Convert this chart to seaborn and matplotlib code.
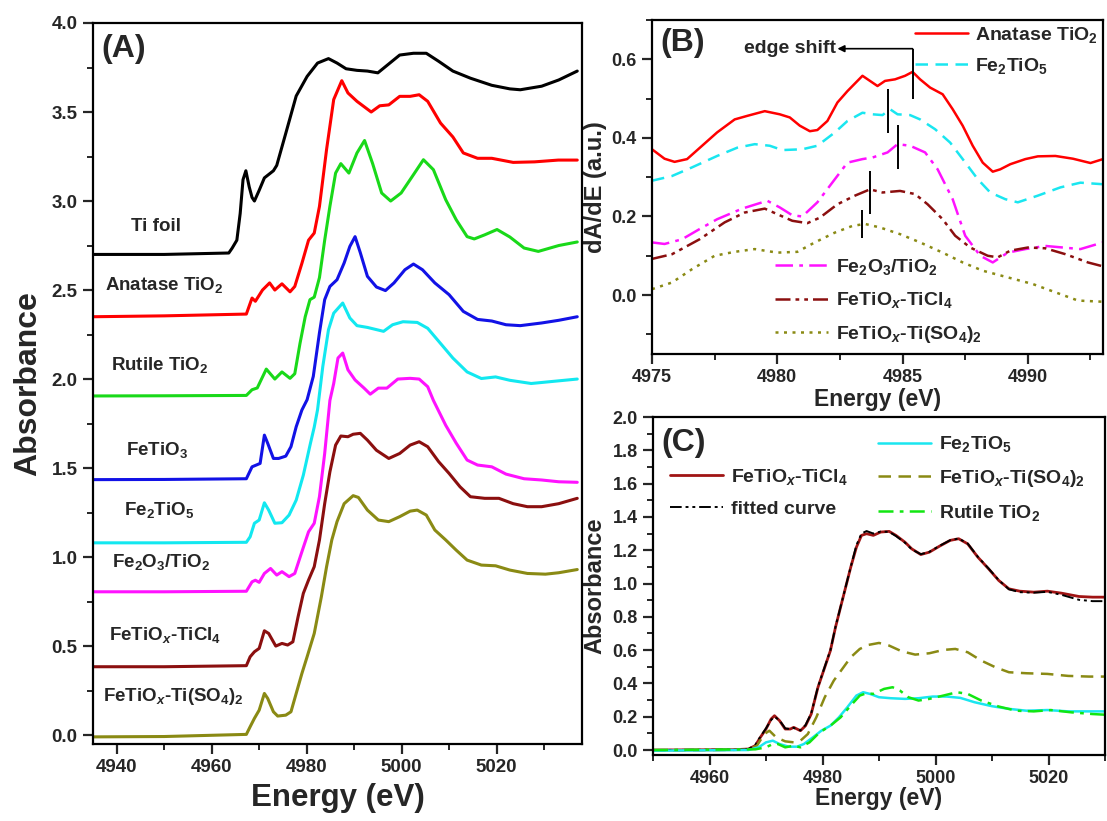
import matplotlib
matplotlib.use("Agg")
import matplotlib.pyplot as plt
from matplotlib.lines import Line2D
from matplotlib.ticker import MultipleLocator
import seaborn as sns

# ---------------- panel A: normalised XANES, stacked (energy eV, absorbance)
ti_foil = [(4935, 2.70), (4950, 2.70), (4963.6, 2.708), (4964.3, 2.735), (4965.3, 2.78),
           (4966.0, 2.93), (4966.6, 3.12), (4967.2, 3.17), (4967.9, 3.08), (4968.5, 3.02),
           (4969.0, 3.00), (4970.0, 3.06), (4971.1, 3.13), (4973.0, 3.17), (4973.7, 3.20),
           (4975.6, 3.38), (4977.8, 3.59), (4980.1, 3.70), (4982.3, 3.775), (4984.6, 3.80),
           (4986.4, 3.775), (4988.3, 3.743), (4990.6, 3.734), (4992.8, 3.73), (4995.0, 3.72),
           (4997.3, 3.77), (4999.6, 3.82), (5002.5, 3.83), (5005.2, 3.83), (5007.8, 3.785),
           (5010.8, 3.73), (5014.5, 3.69), (5019.0, 3.65), (5022.8, 3.63), (5025.0, 3.625),
           (5029.5, 3.645), (5033.1, 3.68), (5037, 3.73)]
anatase = [(4935, 2.35), (4950, 2.355), (4967.3, 2.365), (4968.5, 2.455), (4969.2, 2.437),
           (4970.7, 2.50), (4972.2, 2.54), (4973.3, 2.50), (4974.8, 2.535), (4976.5, 2.49),
           (4977.5, 2.52), (4979.0, 2.65), (4980.4, 2.78), (4981.6, 2.82), (4982.7, 2.97),
           (4984.2, 3.29), (4985.7, 3.57), (4987.4, 3.676), (4988.7, 3.607), (4990.6, 3.56),
           (4992.1, 3.53), (4993.6, 3.50), (4995.4, 3.535), (4997.3, 3.54), (4999.6, 3.588),
           (5001.8, 3.588), (5003.7, 3.597), (5005.5, 3.56), (5008.2, 3.438), (5010.8, 3.36),
           (5013.0, 3.27), (5016.0, 3.24), (5019.0, 3.24), (5023.5, 3.217), (5028.0, 3.22),
           (5033.0, 3.23), (5037, 3.23)]
rutile = [(4935, 1.905), (4950, 1.906), (4967.3, 1.908), (4968.5, 1.94), (4969.6, 1.95),
          (4971.5, 2.056), (4973.3, 2.00), (4974.8, 2.04), (4976.5, 2.004), (4977.5, 2.03),
          (4978.6, 2.20), (4979.7, 2.35), (4980.7, 2.446), (4981.6, 2.46), (4982.7, 2.57),
          (4983.8, 2.78), (4984.9, 2.97), (4986.1, 3.157), (4987.2, 3.21), (4988.9, 3.157),
          (4990.6, 3.27), (4992.2, 3.34), (4993.9, 3.21), (4995.8, 3.045), (4997.7, 3.00),
          (4999.9, 3.045), (5002.5, 3.148), (5004.6, 3.232), (5006.7, 3.176), (5009.3, 3.007),
          (5011.5, 2.895), (5013.8, 2.80), (5015.3, 2.787), (5017.5, 2.81), (5020.1, 2.84),
          (5022.8, 2.798), (5025.8, 2.736), (5028.8, 2.717), (5033.1, 2.75), (5037, 2.77)]
fetio3 = [(4935, 1.435), (4950, 1.436), (4967.3, 1.44), (4968.5, 1.507), (4969.4, 1.517),
          (4970.2, 1.526), (4971.1, 1.685), (4971.8, 1.639), (4973.0, 1.554), (4974.1, 1.554),
          (4975.6, 1.567), (4976.7, 1.62), (4977.8, 1.732), (4979.0, 1.826), (4980.1, 1.884),
          (4981.4, 2.015), (4982.7, 2.26), (4983.8, 2.446), (4984.9, 2.52), (4986.4, 2.558),
          (4987.9, 2.652), (4989.1, 2.745), (4990.2, 2.80), (4991.3, 2.71), (4992.8, 2.577),
          (4994.7, 2.517), (4996.6, 2.497), (4998.4, 2.54), (5000.7, 2.614), (5002.5, 2.646),
          (5004.4, 2.614), (5007.0, 2.54), (5010.0, 2.474), (5013.0, 2.38), (5016.0, 2.335),
          (5019.0, 2.326), (5022.0, 2.305), (5025.0, 2.30), (5029.5, 2.315), (5033.1, 2.33),
          (5037, 2.35)]
fe2tio5 = [(4935, 1.08), (4950, 1.08), (4967.3, 1.083), (4968.1, 1.114), (4969.0, 1.19),
           (4970.0, 1.208), (4971.1, 1.305), (4972.0, 1.264), (4973.3, 1.19), (4974.8, 1.193),
           (4976.3, 1.236), (4977.8, 1.32), (4979.3, 1.46), (4980.8, 1.639), (4981.6, 1.73),
           (4982.3, 1.828), (4983.4, 2.07), (4984.6, 2.277), (4985.7, 2.37), (4987.6, 2.427),
           (4989.1, 2.343), (4990.6, 2.30), (4992.8, 2.29), (4996.2, 2.268), (4998.1, 2.305),
           (5000.3, 2.322), (5003.3, 2.318), (5005.5, 2.285), (5008.2, 2.20), (5010.8, 2.118),
           (5013.8, 2.04), (5016.8, 2.003), (5019.8, 2.012), (5022.8, 1.993), (5027.3, 1.975),
           (5033.1, 1.99), (5037, 2.0)]
fe2o3_tio2 = [(4935, 0.805), (4950, 0.805), (4967.3, 0.808), (4968.5, 0.861), (4969.2, 0.87),
              (4970.0, 0.858), (4971.1, 0.908), (4972.4, 0.936), (4973.7, 0.899), (4974.8, 0.918),
              (4976.3, 0.89), (4977.5, 0.908), (4979.0, 1.03), (4980.4, 1.142), (4981.6, 1.19),
              (4982.7, 1.34), (4983.8, 1.582), (4984.9, 1.88), (4985.7, 1.975), (4986.6, 2.118),
              (4987.6, 2.146), (4988.7, 2.052), (4990.2, 1.995), (4992.1, 1.949), (4993.4, 1.915),
              (4995.1, 1.949), (4996.9, 1.949), (4999.2, 2.0), (5001.8, 2.004), (5003.7, 2.0),
              (5005.5, 1.957), (5006.7, 1.88), (5009.3, 1.74), (5011.5, 1.64), (5013.8, 1.545),
              (5016.0, 1.517), (5019.0, 1.507), (5022.0, 1.466), (5025.8, 1.44), (5029.5, 1.433),
              (5033.1, 1.423), (5037, 1.42)]
fetiox_ticl4 = [(4935, 0.384), (4950, 0.384), (4967.3, 0.39), (4968.1, 0.44), (4969.0, 0.468),
                (4970.0, 0.487), (4971.1, 0.586), (4972.0, 0.571), (4973.5, 0.50), (4974.8, 0.515),
                (4976.0, 0.506), (4977.1, 0.524), (4978.2, 0.665), (4979.3, 0.796), (4980.4, 0.871),
                (4981.6, 0.946), (4982.7, 1.096), (4983.8, 1.30), (4984.9, 1.479), (4986.1, 1.629),
                (4987.2, 1.68), (4988.7, 1.676), (4989.8, 1.69), (4991.3, 1.695), (4992.8, 1.657),
                (4994.7, 1.60), (4997.3, 1.554), (4999.6, 1.582), (5001.8, 1.629), (5003.7, 1.648),
                (5005.5, 1.62), (5007.8, 1.536), (5010.0, 1.47), (5012.3, 1.395), (5014.5, 1.339),
                (5017.5, 1.33), (5020.5, 1.33), (5023.5, 1.30), (5026.5, 1.283), (5029.5, 1.283),
                (5033.1, 1.30), (5037, 1.33)]
fetiox_tiso4 = [(4935, -0.01), (4950, -0.008), (4967.3, 0.004), (4968.1, 0.047), (4969.0, 0.094),
                (4970.0, 0.14), (4971.1, 0.234), (4971.8, 0.206), (4973.0, 0.131), (4973.9, 0.107),
                (4975.6, 0.112), (4976.7, 0.131), (4977.8, 0.234), (4979.0, 0.346), (4980.1, 0.44),
                (4981.6, 0.571), (4983.1, 0.777), (4984.2, 0.946), (4985.3, 1.096), (4986.4, 1.199),
                (4987.9, 1.30), (4989.8, 1.345), (4990.9, 1.335), (4992.8, 1.264), (4995.1, 1.208),
                (4997.3, 1.199), (4999.6, 1.227), (5001.8, 1.258), (5003.3, 1.264), (5005.2, 1.236),
                (5007.0, 1.152), (5009.3, 1.096), (5011.5, 1.039), (5013.8, 0.983), (5016.8, 0.955),
                (5019.8, 0.951), (5022.8, 0.927), (5026.5, 0.908), (5030.3, 0.904), (5033.1, 0.912),
                (5037, 0.93)]

a_labels = ["Ti foil", r"Anatase TiO$_2$", r"Rutile TiO$_2$", r"FeTiO$_3$", r"Fe$_2$TiO$_5$",
            r"Fe$_2$O$_3$/TiO$_2$", r"FeTiO$_\mathit{x}$-TiCl$_4$", r"FeTiO$_\mathit{x}$-Ti(SO$_4$)$_2$"]
a_label_e = [4948.2, 4950.1, 4949.0, 4948.6, 4949.0, 4949.4, 4950.1, 4952.0]
a_label_y = [2.857, 2.53, 2.08, 1.60, 1.264, 0.974, 0.56, 0.215]

# ---------------- panel B: first derivative (energy eV, dA/dE)
d_anatase = [(4975.0, 0.371), (4975.5, 0.347), (4975.9, 0.339), (4976.4, 0.346), (4977.0, 0.38),
             (4977.6, 0.414), (4978.3, 0.447), (4978.8, 0.456), (4979.5, 0.468), (4980.1, 0.46),
             (4980.5, 0.452), (4980.9, 0.431), (4981.3, 0.417), (4981.6, 0.42), (4982.0, 0.443),
             (4982.4, 0.49), (4982.8, 0.519), (4983.4, 0.558), (4983.7, 0.545), (4984.0, 0.532),
             (4984.3, 0.545), (4984.7, 0.549), (4985.1, 0.558), (4985.4, 0.568), (4985.7, 0.549),
             (4986.1, 0.528), (4986.6, 0.511), (4987.0, 0.473), (4987.4, 0.431), (4987.8, 0.38),
             (4988.2, 0.337), (4988.6, 0.314), (4988.9, 0.32), (4989.3, 0.333), (4989.9, 0.346),
             (4990.4, 0.353), (4991.1, 0.354), (4991.8, 0.347), (4992.5, 0.336), (4993.0, 0.346)]
d_fe2tio5 = [(4975.0, 0.291), (4975.8, 0.303), (4976.6, 0.325), (4977.6, 0.354), (4978.4, 0.375),
             (4979.1, 0.384), (4979.7, 0.38), (4980.2, 0.369), (4981.0, 0.371), (4981.6, 0.38),
             (4982.3, 0.414), (4982.8, 0.443), (4983.4, 0.464), (4983.8, 0.46), (4984.2, 0.458),
             (4984.5, 0.473), (4984.8, 0.46), (4985.3, 0.458), (4985.7, 0.447), (4986.3, 0.422),
             (4986.9, 0.388), (4987.4, 0.346), (4988.0, 0.295), (4988.5, 0.261), (4989.1, 0.244),
             (4989.6, 0.236), (4990.4, 0.253), (4991.3, 0.274), (4992.1, 0.286), (4993.0, 0.282)]
d_fe2o3_tio2 = [(4975.0, 0.134), (4975.5, 0.13), (4976.2, 0.142), (4976.9, 0.168), (4977.6, 0.193),
                (4978.6, 0.22), (4979.3, 0.234), (4979.6, 0.24), (4980.1, 0.223), (4980.6, 0.203),
                (4981.0, 0.20), (4981.6, 0.236), (4982.3, 0.295), (4982.8, 0.337), (4983.4, 0.346),
                (4983.8, 0.35), (4984.4, 0.363), (4984.8, 0.384), (4985.3, 0.38), (4985.9, 0.363),
                (4986.4, 0.32), (4987.0, 0.244), (4987.5, 0.151), (4988.1, 0.10), (4988.6, 0.083),
                (4989.2, 0.108), (4989.9, 0.117), (4990.7, 0.125), (4991.4, 0.121), (4992.1, 0.117),
                (4993.0, 0.134)]
d_ticl4 = [(4975.0, 0.092), (4975.8, 0.104), (4976.9, 0.142), (4977.9, 0.185), (4978.7, 0.21),
           (4979.5, 0.22), (4980.1, 0.203), (4980.6, 0.189), (4981.2, 0.183), (4981.7, 0.197),
           (4982.4, 0.231), (4983.1, 0.253), (4983.7, 0.269), (4984.2, 0.261), (4984.9, 0.265),
           (4985.5, 0.257), (4986.0, 0.231), (4986.6, 0.193), (4987.1, 0.151), (4987.7, 0.121),
           (4988.4, 0.10), (4988.8, 0.096), (4989.3, 0.113), (4990.0, 0.121), (4990.7, 0.119),
           (4991.5, 0.104), (4992.4, 0.083), (4993.0, 0.073)]
d_tiso4 = [(4975.0, 0.015), (4975.8, 0.032), (4976.6, 0.066), (4977.5, 0.10), (4978.3, 0.11),
           (4979.1, 0.117), (4980.0, 0.108), (4980.8, 0.11), (4981.5, 0.134), (4982.3, 0.159),
           (4983.0, 0.176), (4983.5, 0.181), (4984.1, 0.172), (4984.9, 0.155), (4985.7, 0.134),
           (4986.6, 0.108), (4987.4, 0.083), (4988.2, 0.062), (4989.2, 0.045), (4990.2, 0.028),
           (4991.1, 0.007), (4992.0, -0.014), (4993.0, -0.017)]

# edge position markers: energy, lower, upper
mark_e = [4985.4, 4984.4, 4984.8, 4983.7, 4983.4]
mark_lo = [0.498, 0.412, 0.32, 0.206, 0.144]
mark_hi = [0.627, 0.524, 0.432, 0.316, 0.217]
shift_arrow_end = 4982.4

# ---------------- panel C: linear combination fit (energy eV, absorbance)
c_ticl4 = [(4950.0, 0.0), (4964.4, 0.002), (4966.9, 0.006), (4968.1, 0.026), (4969.0, 0.076),
           (4970.0, 0.126), (4970.9, 0.186), (4971.5, 0.206), (4972.4, 0.176), (4973.4, 0.126),
           (4974.3, 0.126), (4974.9, 0.136), (4976.1, 0.116), (4977.0, 0.146), (4978.0, 0.216),
           (4979.2, 0.377), (4980.4, 0.497), (4981.4, 0.597), (4982.3, 0.737), (4983.2, 0.858),
           (4984.1, 0.978), (4985.0, 1.098), (4986.0, 1.218), (4986.9, 1.289), (4987.8, 1.299),
           (4989.0, 1.289), (4990.3, 1.309), (4991.8, 1.313), (4993.0, 1.289), (4994.6, 1.248),
           (4995.8, 1.208), (4997.4, 1.174), (4998.9, 1.188), (5000.7, 1.224), (5002.6, 1.259),
           (5004.1, 1.269), (5005.7, 1.238), (5007.5, 1.158), (5009.4, 1.088), (5011.2, 1.018),
           (5013.0, 0.968), (5014.9, 0.954), (5017.4, 0.948), (5019.8, 0.954), (5022.3, 0.942),
           (5025.4, 0.922), (5027.8, 0.918), (5030.0, 0.918)]
c_fitted = [(4950.0, 0.0), (4964.4, 0.002), (4966.9, 0.006), (4968.1, 0.03), (4969.0, 0.08),
            (4970.0, 0.13), (4970.9, 0.18), (4971.5, 0.20), (4972.4, 0.178), (4973.4, 0.13),
            (4974.3, 0.125), (4974.9, 0.133), (4976.1, 0.118), (4977.0, 0.15), (4978.0, 0.22),
            (4979.2, 0.38), (4980.4, 0.50), (4981.4, 0.60), (4982.3, 0.74), (4983.2, 0.86),
            (4984.1, 0.98), (4985.0, 1.10), (4986.0, 1.23), (4986.9, 1.30), (4987.8, 1.315),
            (4989.0, 1.30), (4990.3, 1.312), (4991.8, 1.31), (4993.0, 1.285), (4994.6, 1.245),
            (4995.8, 1.205), (4997.4, 1.176), (4998.9, 1.19), (5000.7, 1.226), (5002.6, 1.26),
            (5004.1, 1.27), (5005.7, 1.24), (5007.5, 1.16), (5009.4, 1.09), (5011.2, 1.02),
            (5013.0, 0.965), (5014.9, 0.948), (5017.4, 0.945), (5019.8, 0.95), (5022.3, 0.932),
            (5025.4, 0.902), (5027.8, 0.894), (5030.0, 0.894)]
c_tiso4 = [(4950.0, -0.004), (4966.9, 0.002), (4968.4, 0.026), (4969.7, 0.096), (4970.6, 0.116),
           (4971.8, 0.076), (4973.4, 0.052), (4974.9, 0.046), (4976.1, 0.056), (4977.4, 0.096),
           (4978.9, 0.196), (4980.4, 0.317), (4982.0, 0.417), (4983.5, 0.487), (4985.0, 0.557),
           (4986.6, 0.607), (4988.1, 0.631), (4990.0, 0.643), (4991.8, 0.627), (4994.0, 0.593),
           (4996.4, 0.573), (4998.9, 0.581), (5001.4, 0.601), (5003.5, 0.607), (5005.7, 0.587),
           (5008.1, 0.537), (5010.6, 0.497), (5013.0, 0.467), (5016.1, 0.461), (5019.8, 0.457),
           (5023.5, 0.445), (5027.2, 0.441), (5030.0, 0.441)]
c_fe2tio5 = [(4950.0, -0.004), (4966.9, 0.0), (4968.7, 0.016), (4970.0, 0.046), (4971.2, 0.056),
             (4972.4, 0.036), (4974.0, 0.02), (4975.5, 0.02), (4976.7, 0.036), (4978.3, 0.076),
             (4979.8, 0.116), (4981.4, 0.146), (4982.9, 0.196), (4984.4, 0.257), (4986.0, 0.327),
             (4987.2, 0.347), (4988.4, 0.337), (4990.0, 0.317), (4992.1, 0.311), (4994.6, 0.307),
             (4997.0, 0.311), (4999.5, 0.321), (5002.0, 0.321), (5004.4, 0.313), (5006.9, 0.287),
             (5010.0, 0.263), (5013.0, 0.247), (5016.1, 0.236), (5019.8, 0.24), (5023.5, 0.232),
             (5027.2, 0.232), (5030.0, 0.232)]
c_rutile = [(4950.0, 0.0), (4968.1, 0.004), (4970.0, 0.016), (4971.2, 0.036), (4972.1, 0.036),
            (4973.4, 0.016), (4974.9, 0.026), (4976.1, 0.016), (4977.7, 0.046), (4979.5, 0.106),
            (4981.4, 0.146), (4983.2, 0.196), (4985.0, 0.267), (4986.6, 0.327), (4987.8, 0.341),
            (4989.0, 0.337), (4990.9, 0.367), (4992.4, 0.377), (4993.7, 0.357), (4995.2, 0.317),
            (4997.0, 0.297), (4998.9, 0.307), (5001.4, 0.327), (5003.8, 0.347), (5005.7, 0.337),
            (5008.1, 0.297), (5011.2, 0.261), (5014.3, 0.236), (5017.4, 0.232), (5020.4, 0.24),
            (5024.1, 0.226), (5027.8, 0.216), (5030.0, 0.212)]

FONT = "Liberation Sans"


def draw(ax, pts, color, ls="-", lw=2.0):
    e, a = zip(*pts)
    sns.lineplot(x=list(e), y=list(a), ax=ax, color=color, linestyle=ls, linewidth=lw,
                 sort=False, estimator=None, legend=False)
    line = ax.lines[-1]
    line.set_solid_joinstyle("round")
    line.set_dash_capstyle("butt")
    return line


def style_axes(ax, tick_size=13):
    for sp in ax.spines.values():
        sp.set_linewidth(1.6)
        sp.set_color("black")
        sp.set_visible(True)
    ax.tick_params(which="major", direction="out", length=7, width=1.6, pad=4,
                   labelsize=tick_size, top=False, right=False)
    ax.tick_params(which="minor", direction="out", length=4, width=1.4,
                   top=False, right=False)
    ax.grid(False)
    ax.set_facecolor("white")


def main():
    sns.set_style("ticks")
    plt.rcParams["font.family"] = [FONT, "DejaVu Sans"]
    plt.rcParams["font.weight"] = "bold"
    plt.rcParams["axes.labelweight"] = "bold"
    plt.rcParams["mathtext.fontset"] = "custom"
    plt.rcParams["mathtext.rm"] = FONT + ":bold"
    plt.rcParams["mathtext.bf"] = FONT + ":bold"
    plt.rcParams["mathtext.it"] = FONT + ":bold:italic"
    plt.rcParams["mathtext.default"] = "bf"

    fig = plt.figure(figsize=(11.07, 8.21), dpi=100)
    W, H = 1107, 821

    def rect(l, r, t, b):
        return [l / W, (H - b) / H, (r - l) / W, (b - t) / H]

    axA = fig.add_axes(rect(93, 582, 23, 744))
    axB = fig.add_axes(rect(652, 1103, 20, 354))
    axC = fig.add_axes(rect(653, 1105, 417, 755))

    # ---- A
    colors_a = ["black", "#ff0000", "#19d919", "#1212e6", "#12e8f0", "#ff12ff", "#8b0f0f", "#8a8a14"]
    for pts, c in zip([ti_foil, anatase, rutile, fetio3, fe2tio5, fe2o3_tio2,
                       fetiox_ticl4, fetiox_tiso4], colors_a):
        draw(axA, pts, c, lw=2.2)
    for txt, e, y in zip(a_labels, a_label_e, a_label_y):
        axA.text(e, y, txt, ha="center", va="center", fontsize=13.5, fontweight="bold")
    axA.set_xlim(4935, 5038)
    axA.set_ylim(-0.05, 4.0)
    axA.xaxis.set_major_locator(MultipleLocator(20))
    axA.xaxis.set_minor_locator(MultipleLocator(10))
    axA.yaxis.set_major_locator(MultipleLocator(0.5))
    axA.yaxis.set_minor_locator(MultipleLocator(0.25))
    style_axes(axA, 13.5)
    axA.set_xlabel("Energy (eV)", fontsize=22.5, fontweight="bold", labelpad=5)
    axA.set_ylabel("Absorbance", fontsize=23, fontweight="bold", labelpad=6)
    axA.text(0.018, 0.985, "(A)", transform=axA.transAxes, fontsize=23,
             fontweight="bold", va="top", ha="left")

    # ---- B
    hB1 = draw(axB, d_anatase, "#ff0000", "-", 1.8)
    hB2 = draw(axB, d_fe2tio5, "#1ae6f0", (0, (5, 3)), 1.8)
    hB3 = draw(axB, d_fe2o3_tio2, "#ff12ff", (0, (7, 2.5, 1.5, 2.5)), 1.8)
    hB4 = draw(axB, d_ticl4, "#8b0f0f", (0, (6, 2, 1.5, 2, 1.5, 2)), 1.8)
    hB5 = draw(axB, d_tiso4, "#8a8a14", (0, (1.2, 2.2)), 1.8)
    axB.vlines(mark_e, mark_lo, mark_hi, color="black", lw=1.4)
    axB.annotate("", xy=(shift_arrow_end, mark_hi[0]), xytext=(mark_e[0], mark_hi[0]),
                 arrowprops=dict(arrowstyle="-|>", color="black", lw=1.2,
                                 shrinkA=0, shrinkB=0, mutation_scale=10))
    axB.text(shift_arrow_end - 0.05, mark_hi[0], "edge shift", ha="right", va="center",
             fontsize=14, fontweight="bold")
    axB.set_xlim(4975, 4993)
    axB.set_ylim(-0.15, 0.7)
    axB.xaxis.set_major_locator(MultipleLocator(5))
    axB.xaxis.set_minor_locator(MultipleLocator(2.5))
    axB.yaxis.set_major_locator(MultipleLocator(0.2))
    axB.yaxis.set_minor_locator(MultipleLocator(0.1))
    style_axes(axB, 13)
    axB.set_xlabel("Energy (eV)", fontsize=16.5, fontweight="bold", labelpad=1)
    axB.set_ylabel("dA/dE (a.u.)", fontsize=17, fontweight="bold", labelpad=3)
    axB.text(0.018, 0.975, "(B)", transform=axB.transAxes, fontsize=23,
             fontweight="bold", va="top", ha="left")
    lb1 = axB.legend([hB1, hB2], [r"Anatase TiO$_2$", r"Fe$_2$TiO$_5$"],
                     loc="upper left", bbox_to_anchor=(0.575, 0.998), frameon=False,
                     fontsize=14, handlelength=2.7, handletextpad=0.4,
                     labelspacing=0.6, borderpad=0.2, borderaxespad=0)
    axB.add_artist(lb1)
    axB.legend([hB3, hB4, hB5],
               [r"Fe$_2$O$_3$/TiO$_2$", r"FeTiO$_\mathit{x}$-TiCl$_4$",
                r"FeTiO$_\mathit{x}$-Ti(SO$_4$)$_2$"],
               loc="lower left", bbox_to_anchor=(0.265, 0.015), frameon=False,
               fontsize=14, handlelength=2.7, handletextpad=0.4,
               labelspacing=0.7, borderpad=0.2, borderaxespad=0)

    # ---- C
    hC1 = draw(axC, c_ticl4, "#a01414", "-", 2.0)
    hC2 = draw(axC, c_fitted, "black", (0, (6, 2, 1.5, 2, 1.5, 2)), 1.4)
    hC4 = draw(axC, c_tiso4, "#8a8a14", (0, (5, 3)), 1.8)
    hC3 = draw(axC, c_fe2tio5, "#1ae6f0", "-", 1.8)
    hC5 = draw(axC, c_rutile, "#12e612", (0, (6, 2.5, 1.5, 2.5)), 1.8)
    axC.set_xlim(4950, 5030)
    axC.set_ylim(-0.03, 2.0)
    axC.xaxis.set_major_locator(MultipleLocator(20))
    axC.xaxis.set_minor_locator(MultipleLocator(10))
    axC.yaxis.set_major_locator(MultipleLocator(0.2))
    axC.yaxis.set_minor_locator(MultipleLocator(0.1))
    style_axes(axC, 13)
    axC.set_xlabel("Energy (eV)", fontsize=16.5, fontweight="bold", labelpad=0)
    axC.set_ylabel("Absorbance", fontsize=17, fontweight="bold", labelpad=4)
    axC.text(0.018, 0.967, "(C)", transform=axC.transAxes, fontsize=23,
             fontweight="bold", va="top", ha="left")
    blank = Line2D([], [], color="none")
    axC.legend([blank, hC1, hC2, hC3, hC4, hC5],
               ["", r"FeTiO$_\mathit{x}$-TiCl$_4$", "fitted curve", r"Fe$_2$TiO$_5$",
                r"FeTiO$_\mathit{x}$-Ti(SO$_4$)$_2$", r"Rutile TiO$_2$"],
               ncol=2, loc="upper left", bbox_to_anchor=(0.03, 0.96), frameon=False,
               fontsize=14, handlelength=2.7, handletextpad=0.4, columnspacing=1.6,
               labelspacing=0.7, borderpad=0.2, borderaxespad=0)

    fig.savefig("out.png", dpi=100, facecolor="white")


if __name__ == "__main__":
    main()
